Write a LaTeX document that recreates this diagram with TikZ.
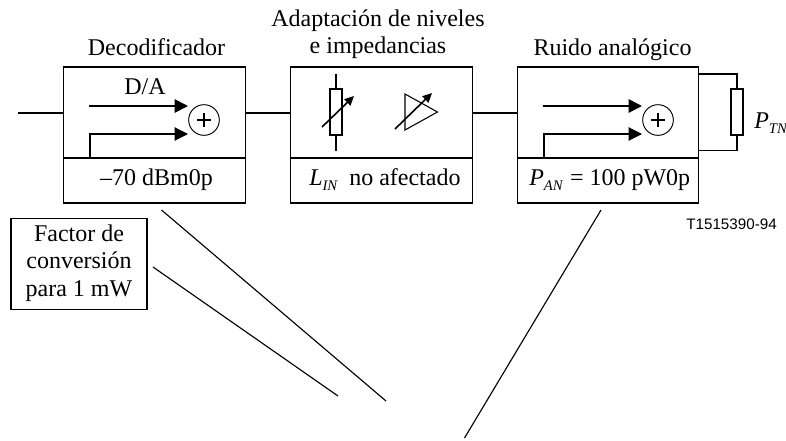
\documentclass[tikz,border=0pt]{standalone}
\usepackage{fontspec}
\setmainfont{Liberation Serif}
\newfontfamily\hv{Liberation Sans}
\usetikzlibrary{arrows.meta}
\newcommand{\subtxt}[1]{\raisebox{-4pt}{\fontsize{11}{11}\selectfont\textit{#1}}}
\tikzset{
 x=0.75pt,y=-0.75pt,
 lab/.style={inner sep=0pt,font=\fontsize{18}{20}\selectfont,align=center},
 thick line/.style={line width=1.4pt},
 thin line/.style={line width=0.85pt},
 arr/.style={-{Triangle[length=10pt,width=10pt]}},
 smallarr/.style={-{Triangle[length=7pt,width=6.5pt]},line width=1.2pt},
 sumnode/.style={circle,draw,line width=0.7pt,minimum size=23pt,inner sep=0pt},
 blockbox/.style={draw,line width=0.9pt,minimum width=136pt,minimum height=102pt,inner sep=0pt},
 resbox/.style={draw,line width=0.8pt,minimum width=9pt,minimum height=34.5pt,inner sep=0pt},
}
\begin{document}
\begin{tikzpicture}
\useasboundingbox (0,0) rectangle (786,440);
% blocks
\node[blockbox] (b1) at (154.5,135) {};
\node[blockbox] (b2) at (381.5,135) {};
\node[blockbox] (b3) at (608,135) {};
\foreach \b in {b1,b2,b3}{\draw[thick line] (\b.west |- 0,158) coordinate (\b l) -- (\b.east |- 0,158) coordinate (\b r);}
% input/links
\coordinate (in) at (18,113);
\draw[thick line] (in) -- (b1.west |- in);
\draw[thick line] (b1.east |- in) -- (b2.west |- in);
\draw[thick line] (b2.east |- in) -- (b3.west |- in);
% titles
\node[lab,anchor=base] (t1) at (156.5,55) {Decodificador};
\node[lab,anchor=base] (t2a) at (378,26) {Adaptación de niveles};
\node[lab,anchor=base] (t2b) at (378,53) {e impedancias};
\node[lab,anchor=base] (t3) at (612.5,55) {Ruido analógico};
% block 1
\node[sumnode] (s1) at (204,120) {};
\draw[line width=0.9pt] (197,120) -- (211,120) (204,113) -- (204,127);
\node[lab,anchor=base] (da) at (145,94) {D/A};
\coordinate (a1) at (89,106);
\coordinate (h1) at (90,158);
\draw[thick line,arr] (a1) -- (188,106);
\draw[thin line,arr] (h1) -- (90,134) -- (188,134);
\node[lab,anchor=base] (v1) at (156.5,185) {–70 dBm0p};
% block 2
\node[resbox] (r) at (336,112) {};
\coordinate (ra) at (336,74); \coordinate (rb) at (336,151);
\draw[thick line] (ra) -- (r.north) (r.south) -- (rb);
\coordinate (ra1) at (322,127); \coordinate (ra2) at (354,96);
\draw[smallarr] (ra1) -- (ra2);
\coordinate (ta) at (405,94); \coordinate (tb) at (437.5,112); \coordinate (tc) at (405,130);
\draw[line width=0.8pt] (ta) -- (tb) -- (tc) -- cycle;
\coordinate (aa1) at (395,129); \coordinate (aa2) at (432,93);
\draw[smallarr] (aa1) -- (aa2);
\node[lab,anchor=base west] (v2) at (309,185) {\textit{L}\subtxt{IN}\hspace{8.5pt}no afectado};
% block 3
\node[sumnode] (s3) at (658,120) {};
\draw[line width=0.9pt] (651,120) -- (665,120) (658,113) -- (658,127);
\coordinate (a3) at (543,106);
\coordinate (h3) at (544,158);
\draw[thick line,arr] (a3) -- (642,106);
\draw[thin line,arr] (h3) -- (544,134) -- (642,134);
\node[lab,anchor=base west] (v3) at (529,185) {\textit{P}\subtxt{AN}\hspace{0.5pt} = 100 pW0p};
% load
\node[resbox] (rl) at (737,112) {};
\coordinate (lt) at (699,74); \coordinate (lb) at (699,150.5);
\draw[thin line] (lt) -| (rl.north) (rl.south) |- (lb);
\node[lab,anchor=base west] (pt) at (754,128) {\textit{P}\subtxt{TN}};
\node[anchor=base east,inner sep=0pt,font=\hv\fontsize{11.4}{12}\selectfont] (code) at (777,229) {T1515390-94};
% factor box
\node[draw,line width=0.8pt,minimum width=102pt,minimum height=68.5pt,inner sep=0pt] (f) at (79,264) {};
\node[lab,anchor=base] (f1) at (79,241) {Factor de};
\node[lab,anchor=base] (f2) at (79,268) {conversión};
\node[lab,anchor=base] (f3) at (79,296) {para 1 mW};
% free lines
\coordinate (c1) at (161.5,210); \coordinate (c2) at (386,401);
\coordinate (c3) at (153,267); \coordinate (c4) at (338,396);
\coordinate (c5) at (601,210); \coordinate (c6) at (464.5,438);
\draw[thin line] (c1) -- (c2) (c3) -- (c4) (c5) -- (c6);
\end{tikzpicture}
\end{document}
